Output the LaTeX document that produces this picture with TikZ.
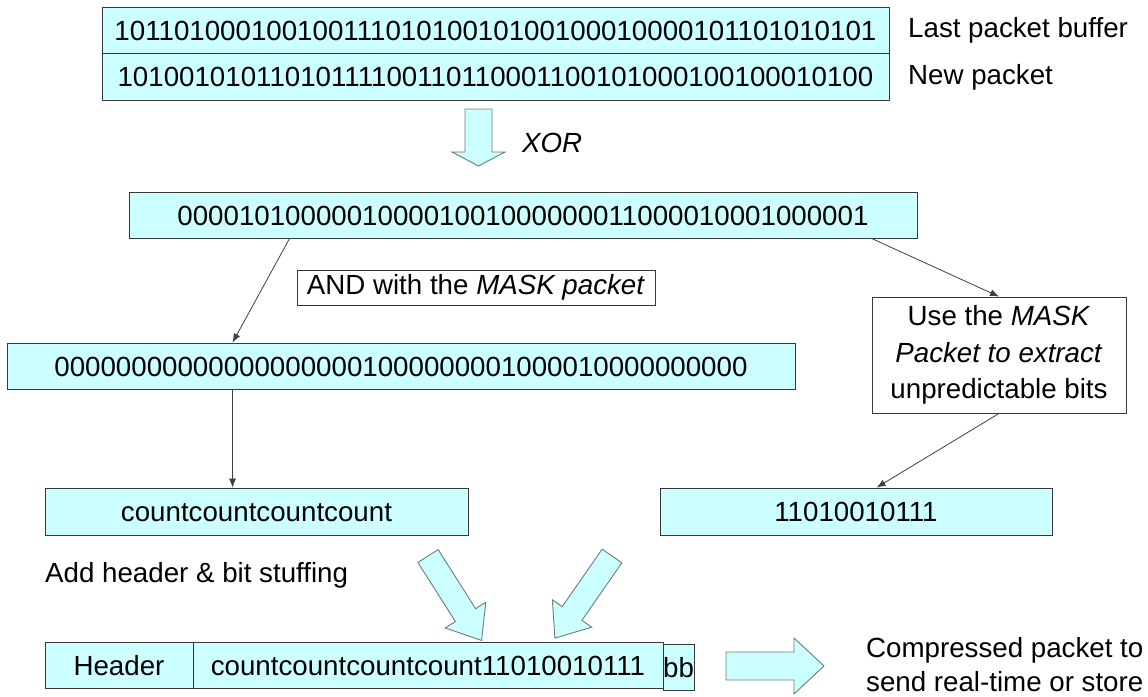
\documentclass[tikz,border=0pt]{standalone}
\usepackage{fontspec}
\setmainfont{Liberation Sans}
\usetikzlibrary{calc,arrows.meta}
\definecolor{boxfill}{HTML}{CCFFFF}
\definecolor{boxline}{HTML}{383838}
\definecolor{lineg}{HTML}{404040}
\definecolor{arrline}{HTML}{6E7B7B}
\newcommand\pkfont{\fontsize{27.7}{35}\selectfont}
\newcommand\blockarr[7]{%
  \begin{scope}[shift={(#1,#2)},rotate=#3]
    \draw[blockarrow] (0,{-#5/2}) -- ({#4-#7},{-#5/2}) -- ({#4-#7},{-#6/2}) -- (#4,0)
      -- ({#4-#7},{#6/2}) -- ({#4-#7},{#5/2}) -- (0,{#5/2}) -- cycle;
  \end{scope}}
\tikzset{
  pk/.style={draw=boxline, fill=boxfill, line width=0.9pt, inner sep=0pt, text height=20pt, text depth=0pt},
  wbox/.style={draw=boxline, fill=white, line width=0.9pt, inner sep=0pt},
  lbl/.style={inner sep=0pt},
  conn/.style={draw=lineg, line width=0.8pt, -{Latex[length=9pt,width=7pt]}},
  blockarrow/.style={draw=arrline, fill=boxfill, line width=0.9pt, line join=miter},
}
\begin{document}
\begin{tikzpicture}[x=1pt,y=-1pt,font=\pkfont]
\useasboundingbox (0,0) rectangle (1148,696);
% top buffers
\node[pk, minimum width=787pt, minimum height=46pt] (buf1) at (495.5,30) {10110100010010011101010010100100010000101101010101};
\node[pk, minimum width=787pt, minimum height=47pt] (buf2) at (495.5,76.5) {10100101011010111100110110001100101000100100010100};
\node[lbl, anchor=west] (lbl1) at (908,30) {Last packet buffer};
\node[lbl, anchor=west] (lbl2) at (908,77) {New packet};
% XOR
\blockarr{478.5}{109}{-90}{57}{27}{53}{14}
\node[lbl, anchor=west, font=\pkfont\itshape] (xorlbl) at (522,143) {XOR};
\node[pk, minimum width=788pt, minimum height=46pt] (xor) at (523,215) {000010100000100001001000000011000010001000001};
% AND
\node[wbox, minimum width=358pt, minimum height=35pt] (andbox) at (476,287.5) {AND with the \textit{MASK packet}};
\node[pk, minimum width=788pt, minimum height=46pt] (andres) at (401,366) {000000000000000000001000000001000010000000000};
% mask
\node[wbox, minimum width=254pt, minimum height=116pt, align=center, font=\fontsize{27.7}{36.5}\selectfont] (mask) at (999,355) {Use the \textit{MASK}\\\textit{Packet to extract}\\unpredictable bits};
% count / bits
\node[pk, minimum width=423pt, minimum height=47pt] (count) at (256.5,511.5) {countcountcountcount};
\node[pk, minimum width=392pt, minimum height=47pt] (bits) at (856,511.5) {11010010111};
\node[lbl, anchor=west] (addlbl) at (45,575) {Add header \& bit stuffing};
% final packet
\node[pk, minimum width=148pt, minimum height=46pt] (hdr) at (119,665) {Header};
\node[pk, minimum width=470pt, minimum height=46pt] (body) at (428,665) {countcountcountcount11010010111};
\node[pk, minimum width=31pt, minimum height=46pt] (bb) at (678.5,667) {bb};
\node[lbl, anchor=west, align=left, font=\fontsize{27.7}{34}\selectfont] (comp) at (866,665) {Compressed packet to\\send real-time or store};
% block arrows
\blockarr{428}{556}{-57.6}{100}{24}{48}{30}
\blockarr{612}{556}{-124.8}{100}{24}{48}{30}
\blockarr{726}{666}{0}{98}{28}{56}{30}
% connectors
\draw[conn] ($(xor.south west)+(161,0)$) -- ($(andres.north west)+(226,0)$);
\draw[conn] ($(xor.south west)+(743,0)$) -- (mask.north);
\draw[conn] ($(andres.south west)+(226,0)$) -- ($(count.north west)+(188,0)$);
\draw[conn] (mask.south) -- ($(bits.north west)+(217,0)$);
\end{tikzpicture}
\end{document}
